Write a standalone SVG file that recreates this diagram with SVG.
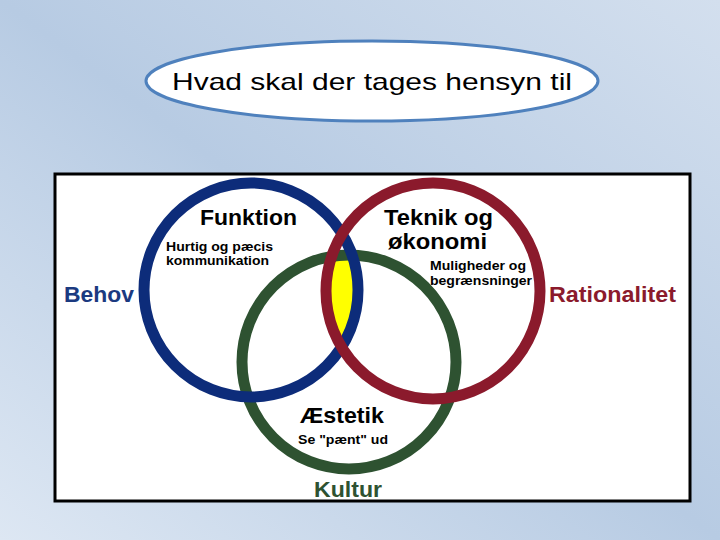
<svg xmlns="http://www.w3.org/2000/svg" width="720" height="540" viewBox="0 0 720 540">
<defs>
<linearGradient id="bg" x1="0" y1="1" x2="1" y2="0">
<stop offset="0" stop-color="#dde7f3"/><stop offset="0.5" stop-color="#b7cbe3"/><stop offset="1" stop-color="#d3dfee"/>
</linearGradient>
<clipPath id="cb"><ellipse cx="251" cy="290" rx="107" ry="107"/></clipPath>
<clipPath id="cg"><ellipse cx="349" cy="362" rx="107" ry="107"/></clipPath>
<style>
text{font-family:"Liberation Sans",Arial,sans-serif;font-weight:bold}
.ring{fill:none;stroke-width:11}
</style>
</defs>
<rect width="720" height="540" fill="url(#bg)"/>
<g id="title">
<ellipse cx="372" cy="81" rx="226" ry="40" fill="#fff" stroke="#4f81bd" stroke-width="3"/>
<text x="172" y="90" font-size="24" style="font-weight:normal" textLength="400" lengthAdjust="spacingAndGlyphs">Hvad skal der tages hensyn til</text>
</g>
<g id="frame"><rect x="55" y="174" width="635" height="327" fill="#fff" stroke="#000" stroke-width="3"/></g>
<g id="overlap" clip-path="url(#cg)"><ellipse cx="433" cy="291" rx="107" ry="108" fill="#ffff00" clip-path="url(#cb)"/></g>
<g id="kultur">
<ellipse class="ring" cx="349" cy="362" rx="107" ry="107" stroke="#2e5231"/>
<text x="300" y="423" font-size="22" textLength="84" lengthAdjust="spacingAndGlyphs">Æstetik</text>
<text x="298" y="444" font-size="13" textLength="90" lengthAdjust="spacingAndGlyphs">Se "pænt" ud</text>
<text x="314" y="497" font-size="22" fill="#2e5231" textLength="68" lengthAdjust="spacingAndGlyphs">Kultur</text>
</g>
<g id="behov">
<ellipse class="ring" cx="251" cy="290" rx="107" ry="107" stroke="#0d2c7a"/>
<text x="200" y="225" font-size="22" textLength="97" lengthAdjust="spacingAndGlyphs">Funktion</text>
<text x="166" y="251" font-size="13" textLength="107" lengthAdjust="spacingAndGlyphs">Hurtig og pæcis</text>
<text x="166" y="265" font-size="13" textLength="103" lengthAdjust="spacingAndGlyphs">kommunikation</text>
<text x="64" y="302" font-size="22" fill="#1b3a80" textLength="70" lengthAdjust="spacingAndGlyphs">Behov</text>
</g>
<g id="rationalitet">
<ellipse class="ring" cx="433" cy="291" rx="107" ry="108" stroke="#8b1a2c"/>
<text x="384" y="225" font-size="22" textLength="109" lengthAdjust="spacingAndGlyphs">Teknik og</text>
<text x="388" y="249" font-size="22" textLength="99" lengthAdjust="spacingAndGlyphs">økonomi</text>
<text x="430" y="270" font-size="13" textLength="96" lengthAdjust="spacingAndGlyphs">Muligheder og</text>
<text x="430" y="285" font-size="13" textLength="102" lengthAdjust="spacingAndGlyphs">begrænsninger</text>
<text x="549" y="302" font-size="22" fill="#8b1a2c" textLength="127" lengthAdjust="spacingAndGlyphs">Rationalitet</text>
</g>
<g id="connectors"/>
</svg>
